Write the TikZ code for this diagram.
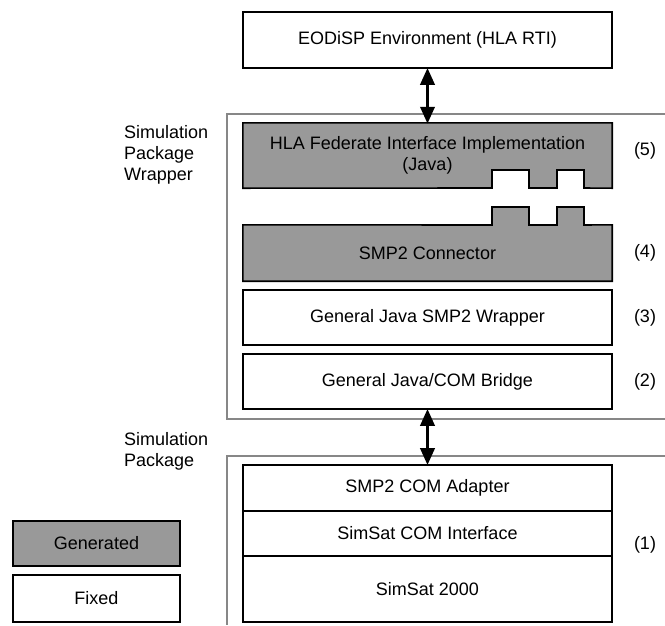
\documentclass[tikz,border=0pt]{standalone}
\usepackage{fontspec}
\setmainfont{Liberation Sans}
\usetikzlibrary{arrows.meta}
\definecolor{genfill}{RGB}{153,153,153}
\definecolor{framegray}{RGB}{135,135,135}
\tikzset{
  layer/.style={draw=black, line width=1.6pt, minimum width=369pt, inner sep=0pt, font=\fontsize{18}{21}\selectfont, align=center},
  fixedbox/.style={layer, fill=white},
  genbox/.style={layer, fill=genfill},
  shapeonly/.style={draw=none, minimum width=369pt, inner sep=0pt, font=\fontsize{18}{21}\selectfont, align=center},
  frame/.style={draw=framegray, line width=1.6pt},
  tag/.style={font=\fontsize{18}{21}\selectfont, inner sep=0pt},
  sidetext/.style={font=\fontsize{18}{21}\selectfont, align=left, inner sep=0pt, anchor=north west},
  link/.style={line width=3.6pt, {Triangle[width=14pt,length=17pt]}-{Triangle[width=14pt,length=17pt]}, shorten <=-1pt, shorten >=-1pt},
}
\begin{document}
\begin{tikzpicture}[x=1pt, y=-1pt]
\useasboundingbox (0,0) rectangle (665,625);

% package frames
\draw[frame] (665,114) -- (227,114) -- (227,419) -- (665,419);
\draw[frame] (665,456) -- (227,456) -- (227,625);

% environment
\node[fixedbox, minimum height=56pt] (eod) at (427.5,40) {EODiSP Environment (HLA RTI)};

% HLA federate interface with two notches
\node[shapeonly, minimum height=65pt] (hla) at (427.5,155.5) {};
\draw[line width=1.6pt, fill=genfill, line join=miter]
  (hla.north west) -- (hla.north east) -- (hla.south east)
  -- (584,188) -- (584,170) -- (557,170) -- (557,188)
  -- (529,188) -- (529,170) -- (492,170) -- (492,188)
  -- (hla.south west) -- cycle;
\node[shapeonly, minimum height=65pt] (hlatext) at (hla) {HLA Federate Interface Implementation\\(Java)};

% SMP2 connector with two tabs
\node[shapeonly, minimum height=56pt] (con) at (427.5,253) {};
\draw[line width=1.6pt, fill=genfill, line join=miter]
  (con.south west) -- (con.north west) -- (492,225) -- (492,207) -- (529,207) -- (529,225)
  -- (557,225) -- (557,207) -- (584,207) -- (584,225)
  -- (con.north east) -- (con.south east) -- cycle;
\node[shapeonly, minimum height=56pt] (context) at (con) {SMP2 Connector};

% fixed wrapper layers
\node[fixedbox, minimum height=55pt] (jw) at (427.5,317.5) {General Java SMP2 Wrapper};
\node[fixedbox, minimum height=55pt] (br) at (427.5,381.5) {General Java/COM Bridge};

% simulation package stack
\node[fixedbox, minimum height=46pt] (ad) at (427.5,488) {SMP2 COM Adapter};
\node[fixedbox, minimum height=45pt] (ci) at (427.5,533.5) {SimSat COM Interface};
\node[fixedbox, minimum height=66pt] (ss) at (427.5,589) {SimSat 2000};

% links
\draw[link] (eod.south) -- (hla.north);
\draw[link] (br.south) -- (ad.north);

% layer numbers
\node[tag] (t5) at (645,151) {(5)};
\node[tag] (t4) at (645,253) {(4)};
\node[tag] (t3) at (645,318) {(3)};
\node[tag] (t2) at (645,382) {(2)};
\node[tag] (t1) at (645,545) {(1)};

% side captions
\node[sidetext] (wraplbl) at (124,125) {Simulation\\Package\\Wrapper};
\node[sidetext] (pkglbl) at (124,432) {Simulation\\Package};

% legend
\node[genbox, minimum width=167pt, minimum height=45pt] (lgen) at (96.5,543.5) {Generated};
\node[fixedbox, minimum width=167pt, minimum height=47pt] (lfix) at (96.5,598.5) {Fixed};
\end{tikzpicture}
\end{document}
